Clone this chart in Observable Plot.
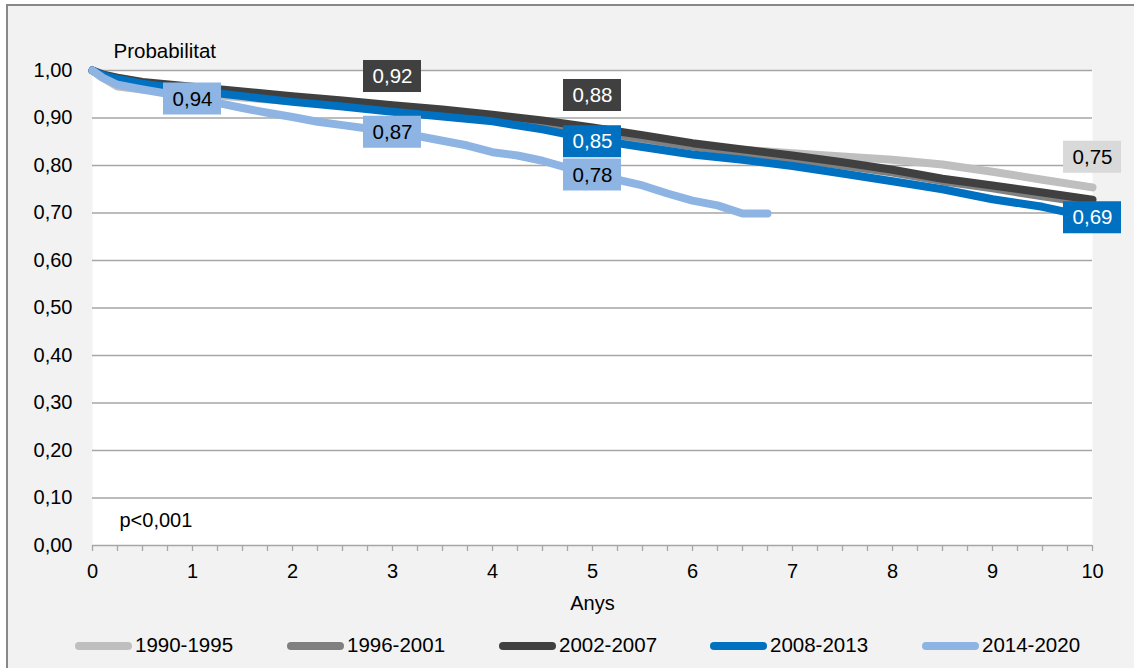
<!DOCTYPE html>
<html>
<head>
<meta charset="utf-8">
<script src="https://cdn.jsdelivr.net/npm/d3@7"></script>
<script src="https://cdn.jsdelivr.net/npm/@observablehq/plot@0.6"></script>
<style>
  html, body { margin: 0; padding: 0; background: #ffffff; overflow: hidden; }
  body { width: 1134px; height: 668px; position: relative; font-family: "Liberation Sans", Arial, sans-serif; }
  #box { position: absolute; left: 6px; top: 4px; width: 1200px; height: 720px; border: 2px solid #888888; background: #f2f2f2; }
  #chart { position: absolute; left: 0; top: 0; width: 1134px; }
  #legend { position: relative; height: 48px; width: 1134px; }
  .item { position: absolute; top: 0; height: 48px; display: flex; align-items: center; font-size: 20.5px; color: #000; }
  .sw { width: 57px; height: 8px; border-radius: 4px; margin-right: 3px; margin-top: 4px; }
  .lbl { margin-top: 2px; }
</style>
</head>
<body>
<div id="box"></div>
<div id="chart"></div>
<script>
// ---- data ----
const cohorts = ["1990-1995", "1996-2001", "2002-2007", "2008-2013", "2014-2020"];
const lineColors = ["#bfbfbf", "#808080", "#404040", "#0070c0", "#8db4e2"];

const tGrid = [0, 0.1, 0.25, 0.5, 1, 1.5, 2, 2.5, 3, 3.5, 4, 4.5, 5, 5.5, 6, 6.5, 7, 7.5, 8, 8.5, 9, 9.5, 10];
const s1990 = [1.000, 0.985, 0.966, 0.960, 0.952, 0.943, 0.935, 0.928, 0.918, 0.908, 0.897, 0.884, 0.868, 0.853, 0.841, 0.833, 0.826, 0.819, 0.812, 0.802, 0.787, 0.770, 0.754];
const s1996 = [1.000, 0.988, 0.978, 0.970, 0.960, 0.950, 0.941, 0.931, 0.921, 0.911, 0.901, 0.888, 0.872, 0.857, 0.840, 0.827, 0.814, 0.800, 0.785, 0.767, 0.752, 0.735, 0.720];
const s2002 = [1.000, 0.992, 0.985, 0.976, 0.966, 0.956, 0.946, 0.937, 0.927, 0.918, 0.907, 0.895, 0.880, 0.864, 0.847, 0.834, 0.821, 0.807, 0.791, 0.772, 0.758, 0.743, 0.728];
const s2008 = [1.000, 0.990, 0.982, 0.972, 0.958, 0.946, 0.934, 0.924, 0.913, 0.903, 0.893, 0.876, 0.855, 0.839, 0.823, 0.812, 0.799, 0.783, 0.767, 0.750, 0.729, 0.713, 0.690];
const t2014 = [0, 0.1, 0.25, 0.5, 0.75, 1, 1.25, 1.5, 1.75, 2, 2.25, 2.5, 2.75, 3, 3.25, 3.5, 3.75, 4, 4.25, 4.5, 4.75, 5, 5.25, 5.5, 5.75, 6, 6.25, 6.5, 6.75];
const s2014 = [1.000, 0.985, 0.970, 0.960, 0.951, 0.940, 0.932, 0.921, 0.911, 0.902, 0.892, 0.885, 0.878, 0.870, 0.862, 0.852, 0.842, 0.828, 0.821, 0.810, 0.795, 0.780, 0.770, 0.758, 0.741, 0.726, 0.716, 0.699, 0.699];

// data labels
const labelYears  = [1, 3, 3, 5, 5, 5, 10, 10];
const labelValues = [0.94, 0.92, 0.87, 0.88, 0.85, 0.78, 0.75, 0.69];
const labelSeries = ["2014-2020", "2002-2007", "2014-2020", "2002-2007", "2008-2013", "2014-2020", "1990-1995", "2008-2013"];
const labelAbove  = [false, true, false, true, false, false, true, false];
const boxColors = {"1990-1995": "#d9d9d9", "2002-2007": "#404040", "2008-2013": "#0070c0", "2014-2020": "#8db4e2"};
const boxText   = {"1990-1995": "#000000", "2002-2007": "#ffffff", "2008-2013": "#ffffff", "2014-2020": "#000000"};

const yTicks = [0, 0.1, 0.2, 0.3, 0.4, 0.5, 0.6, 0.7, 0.8, 0.9, 1.0];
const xTicks = Array.from({length: 41}, (_, i) => i / 4);
const yTitle = "Probabilitat";
const xTitle = "Anys";
const pNote = "p<0,001";

// ---- build tables ----
const fmt = v => v.toFixed(2).replace(".", ",");
const seriesVals = [s1990, s1996, s2002, s2008, s2014];
const seriesTimes = [tGrid, tGrid, tGrid, tGrid, t2014];
const rows = [];
cohorts.forEach((c, i) => seriesTimes[i].forEach((t, j) => rows.push({series: c, year: t, value: seriesVals[i][j]})));
const labels = labelYears.map((y, i) => ({year: y, value: labelValues[i], text: fmt(labelValues[i]), series: labelSeries[i], above: labelAbove[i]}));
const lblAbove = labels.filter(d => d.above);
const lblOn = labels.filter(d => !d.above);

const hw = 0.29, hh = 0.0337;
function labelMarks(data, dy) {
  return [
    Plot.rect(data, {x1: d => d.year - hw, x2: d => d.year + hw, y1: d => d.value - hh, y2: d => d.value + hh, fill: d => boxColors[d.series], dy}),
    Plot.text(data, {x: "year", y: "value", text: "text", fill: d => boxText[d.series], fontSize: 20.5, dy, lineAnchor: "middle"})
  ];
}

const plot = Plot.plot({
  width: 1134, height: 620,
  marginLeft: 92, marginRight: 42, marginTop: 70, marginBottom: 75,
  style: {background: "transparent", fontFamily: "'Liberation Sans', Arial, sans-serif", fontSize: "20px", color: "#000"},
  x: {domain: [0, 10]},
  y: {domain: [0, 1]},
  marks: [
    Plot.frame({fill: "white", stroke: "none"}),
    Plot.ruleY(yTicks, {stroke: "#a6a6a6", strokeWidth: 1.3}),
    Plot.axisY({ticks: yTicks, tickSize: 0, tickPadding: 20, tickFormat: fmt, fontSize: 20, label: null}),
    Plot.axisX({ticks: xTicks, tickSize: 6, tickPadding: 12, stroke: "#a6a6a6", fill: "#000", strokeWidth: 1.3, fontSize: 20,
                tickFormat: d => Number.isInteger(d) ? String(d) : "", label: null}),
    ...cohorts.map((c, i) => Plot.line(rows.filter(r => r.series === c), {
      x: "year", y: "value", stroke: lineColors[i], strokeWidth: 8, strokeLinecap: "round", strokeLinejoin: "round"})),
    ...labelMarks(lblOn, 0),
    ...labelMarks(lblAbove, -32),
    Plot.text([yTitle], {text: d => d, frameAnchor: "top-left", dx: 21, dy: -19, textAnchor: "start", lineAnchor: "middle", fontSize: 20.5}),
    Plot.text([pNote], {text: d => d, frameAnchor: "bottom-left", dx: 27, dy: -25, textAnchor: "start", lineAnchor: "middle", fontSize: 20}),
    Plot.text([xTitle], {text: d => d, frameAnchor: "bottom", dy: 58, lineAnchor: "middle", fontSize: 20})
  ]
});

const chart = document.getElementById("chart");
chart.appendChild(plot);

// legend below the SVG
const legend = document.createElement("div");
legend.id = "legend";
const legendStarts = [75, 287, 499, 710, 922];
cohorts.forEach((c, i) => {
  const it = document.createElement("div");
  it.className = "item";
  it.style.left = legendStarts[i] + "px";
  const sw = document.createElement("div");
  sw.className = "sw";
  sw.style.background = lineColors[i];
  const tx = document.createElement("span");
  tx.className = "lbl";
  tx.textContent = c;
  it.appendChild(sw); it.appendChild(tx);
  legend.appendChild(it);
});
chart.appendChild(legend);
</script>
</body>
</html>
